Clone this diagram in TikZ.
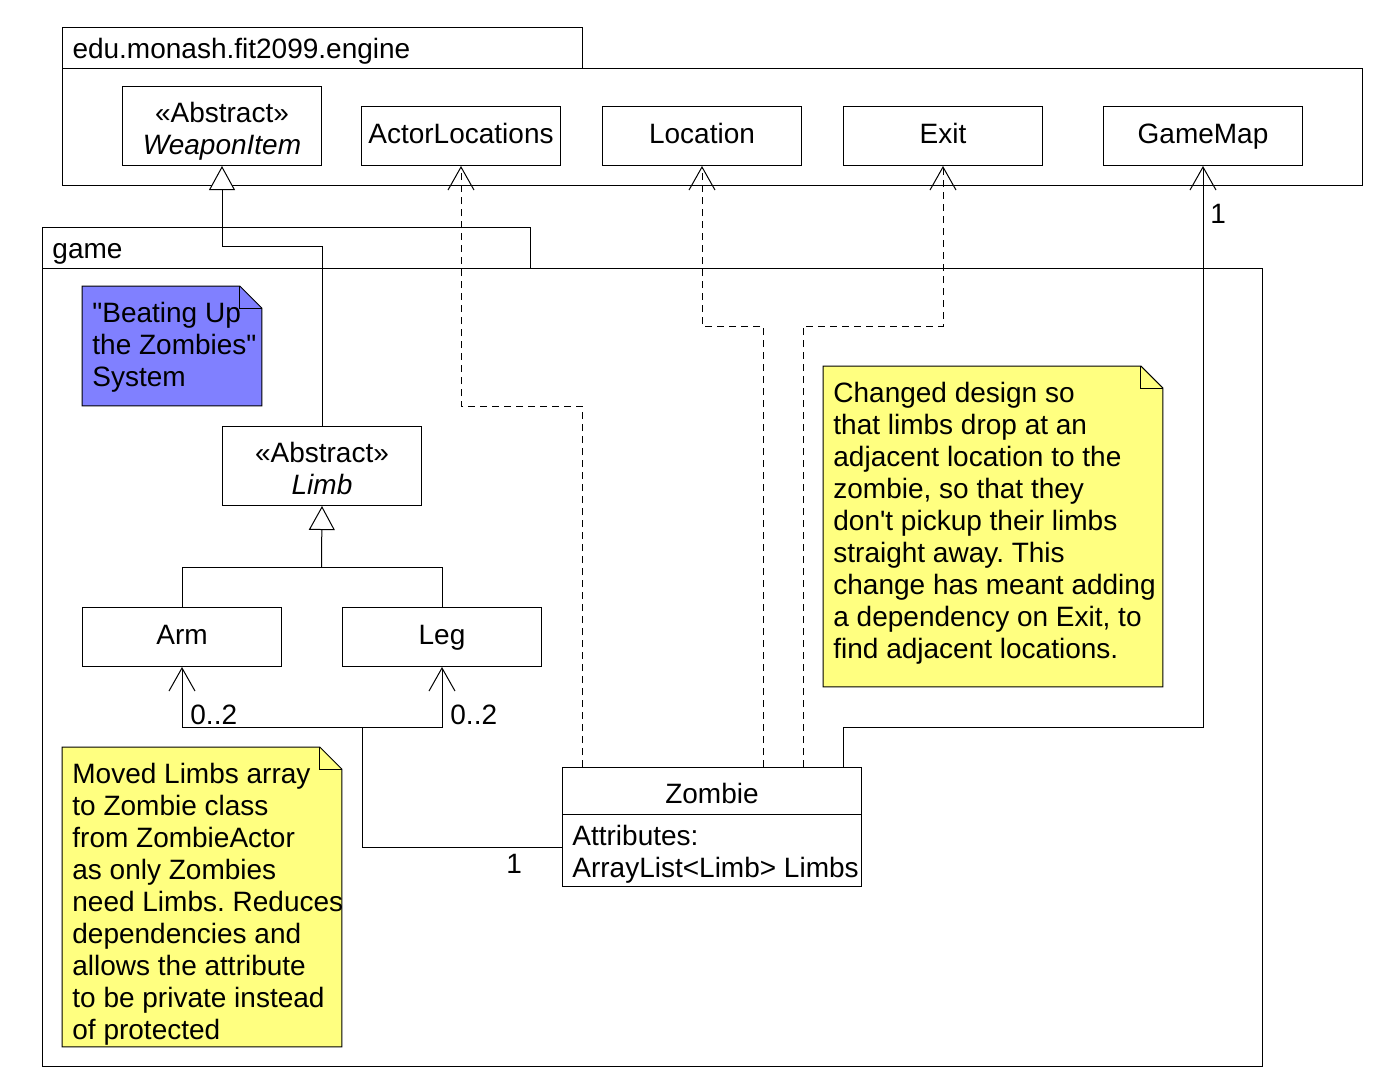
\documentclass[tikz,border=0pt]{standalone}
\usepackage{fontspec}
\setmainfont{Liberation Sans}[Ligatures=TeXOff]
\usetikzlibrary{arrows.meta}
\definecolor{notey}{RGB}{255,255,128}
\definecolor{noteb}{RGB}{128,128,255}
\frenchspacing
\begin{document}
\begin{tikzpicture}[x=0.5pt,y=-0.5pt,
  every node/.style={font=\frenchspacing\fontsize{14pt}{16pt}\selectfont, inner sep=0pt},
  ln/.style={line width=0.5pt},
  pkg/.style={draw, ln, fill=white, anchor=north west},
  tab/.style={pkg, align=left, inner xsep=5pt, minimum height=20.5pt, text height=10pt, text depth=0pt},
  cls/.style={draw, ln, fill=white, anchor=north west, minimum width=99.5pt, align=center},
  one/.style={cls, minimum height=29.5pt, text height=10pt, text depth=3pt},
  two/.style={cls, minimum height=39.5pt},
  txt/.style={anchor=north west, align=left},
  mult/.style={anchor=base west},
  gen/.style={ln, -{Triangle[fill=white, length=12pt, width=13pt]}},
  dep/.style={ln, dash pattern=on 3.5pt off 2.5pt, -{Straight Barb[length=11.5pt, width=13pt]}},
  asc/.style={ln, -{Straight Barb[length=11.5pt, width=13pt]}},
  notearea/.style={anchor=north west},
  notebody/.style={draw, ln, line join=miter},
]
\path[use as bounding box, fill=white] (0,0) rectangle (1394,1084);

% packages
\node[tab, text width=250pt] (engtab) at (62,27) {edu.monash.fit2099.engine};
\node[pkg, minimum width=650pt, minimum height=58.5pt] (engbody) at (62,68) {};
\node[tab, text width=234pt] (gametab) at (42,227) {game};
\node[pkg, minimum width=610pt, minimum height=399pt] (gamebody) at (42,268) {};

% notes
\node[notearea, minimum width=89.5pt, minimum height=59.5pt] (bnote) at (82,286) {};
\draw[notebody, fill=noteb] (bnote.north west) -- ([xshift=-11pt]bnote.north east) -- ([yshift=-11pt]bnote.north east) -- (bnote.south east) -- (bnote.south west) -- cycle;
\draw[ln] ([xshift=-11pt]bnote.north east) |- ([yshift=-11pt]bnote.north east);
\node[txt] (btext) at (92,302) {"Beating Up\\the Zombies"\\System};

\node[notearea, minimum width=139.5pt, minimum height=149.5pt] (lnote) at (62,747) {};
\draw[notebody, fill=notey] (lnote.north west) -- ([xshift=-11pt]lnote.north east) -- ([yshift=-11pt]lnote.north east) -- (lnote.south east) -- (lnote.south west) -- cycle;
\draw[ln] ([xshift=-11pt]lnote.north east) |- ([yshift=-11pt]lnote.north east);
\node[txt] (ltext) at (72,763) {Moved Limbs array\\to Zombie class\\from ZombieActor\\as only Zombies\\need Limbs. Reduces\\dependencies and\\allows the attribute\\to be private instead\\of protected};

\node[notearea, minimum width=169.5pt, minimum height=160pt] (rnote) at (823,366) {};
\draw[notebody, fill=notey] (rnote.north west) -- ([xshift=-11pt]rnote.north east) -- ([yshift=-11pt]rnote.north east) -- (rnote.south east) -- (rnote.south west) -- cycle;
\draw[ln] ([xshift=-11pt]rnote.north east) |- ([yshift=-11pt]rnote.north east);
\node[txt] (rtext) at (833,382) {Changed design so\\that limbs drop at an\\adjacent location to the\\zombie, so that they\\don't pickup their limbs\\straight away. This\\change has meant adding\\a dependency on Exit, to\\find adjacent locations.};

% classes
\node[two] (WeaponItem) at (122,86) {\rule{0pt}{15.5pt}«Abstract»\\\textit{WeaponItem}\rule[-3pt]{0pt}{3pt}};
\node[one] (ActorLocations) at (361,106) {ActorLocations};
\node[one] (Location) at (602,106) {Location};
\node[one] (Exit) at (843,106) {Exit};
\node[one] (GameMap) at (1103,106) {GameMap};
\node[two] (Limb) at (222,426) {\rule{0pt}{15.5pt}«Abstract»\\\textit{Limb}\rule[-3pt]{0pt}{3pt}};
\node[one] (Arm) at (82,607) {Arm};
\node[one] (Leg) at (342,607) {Leg};

\node[cls, minimum width=149.5pt, minimum height=59.5pt] (Zombie) at (562,767) {};
\draw[ln] (Zombie.west |- 0,814) -- (Zombie.east |- 0,814);
\node[text height=10pt, text depth=3pt] (zname) at (712,796) {Zombie};
\node[txt] (zattr) at (572,825) {Attributes:\\ArrayList<Limb> Limbs};

% connectors
\draw[gen] (Limb.north) -- ++(0,-180) -| (WeaponItem.south);
\coordinate (lj) at (321.5,567);
\draw[ln] (Arm.north) |- (lj) -| (Leg.north);
\draw[gen] (lj) -- (Limb.south);

\draw[dep] ([xshift=10pt]Zombie.north west) -- ++(0,-361) -| (ActorLocations.south);
\draw[dep] ([xshift=100.5pt]Zombie.north west) -- ++(0,-441) -| (Location.south);
\draw[dep] ([xshift=120.5pt]Zombie.north west) -- ++(0,-441) -| (Exit.south);
\draw[asc] ([xshift=140.5pt]Zombie.north west) -- ++(0,-40) -| (GameMap.south);
\node[mult] (m1) at (1210,223) {1};

\coordinate (aj) at (362,727);
\draw[ln] ([yshift=-10pt]Zombie.west) -| (aj);
\draw[asc] (aj) -| (Arm.south);
\draw[asc] (aj) -| (Leg.south);
\node[mult] (m2) at (190,724) {0..2};
\node[mult] (m3) at (450,724) {0..2};
\node[mult] (m4) at (506,873) {1};
\end{tikzpicture}
\end{document}
